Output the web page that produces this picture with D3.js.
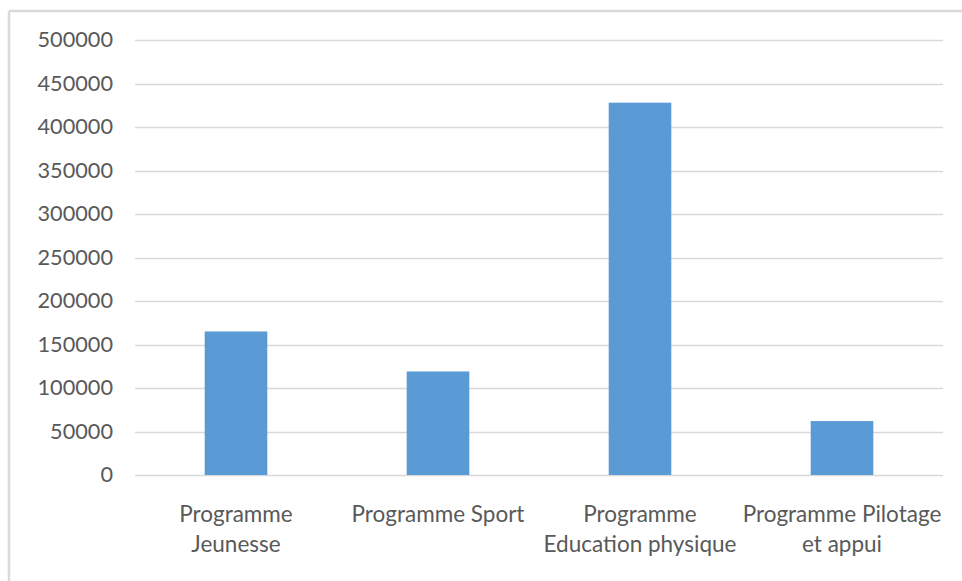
<!DOCTYPE html>
<html>
<head>
<meta charset="utf-8">
<script src="https://cdn.jsdelivr.net/npm/d3@7"></script>
<style>
  html, body { margin: 0; padding: 0; background: #fff; }
  svg { display: block; }
  text { font-family: "Lato", "Liberation Sans", sans-serif; fill: #595959; }
</style>
</head>
<body>
<svg id="chart" width="962" height="581"></svg>
<script>
const categories = [
  ["Programme", "Jeunesse"],
  ["Programme Sport"],
  ["Programme", "Education physique"],
  ["Programme Pilotage", "et appui"]
];
const values = [165000, 119000, 428000, 62000];
const yTicks = [0, 50000, 100000, 150000, 200000, 250000, 300000, 350000, 400000, 450000, 500000];

const svg = d3.select("#chart");
const W = 962, H = 581;
const margin = { left: 135, right: 19, top: 40, bottom: 106 };

// outer frame (top and left edges visible)
svg.append("line").attr("x1", 9).attr("x2", W).attr("y1", 11).attr("y2", 11)
  .attr("stroke", "#d9d9d9").attr("stroke-width", 2.5);
svg.append("line").attr("x1", 9).attr("x2", 9).attr("y1", 11).attr("y2", H)
  .attr("stroke", "#d9d9d9").attr("stroke-width", 2.5);

const x = d3.scaleBand()
  .domain(d3.range(categories.length))
  .range([margin.left, W - margin.right])
  .paddingInner(0)
  .paddingOuter(0);

const y = d3.scaleLinear()
  .domain([0, 500000])
  .range([H - margin.bottom, margin.top]);

// gridlines
svg.append("g").selectAll("line").data(yTicks).join("line")
  .attr("x1", margin.left).attr("x2", W - margin.right)
  .attr("y1", d => Math.round(y(d)) + 0.5).attr("y2", d => Math.round(y(d)) + 0.5)
  .attr("stroke", "#d9d9d9").attr("stroke-width", 1.5);

// y labels
const yAxis = d3.axisLeft(y).tickValues(yTicks).tickSize(0).tickPadding(22).tickFormat(d3.format("d"));
const ga = svg.append("g").attr("transform", `translate(${margin.left},0)`).call(yAxis);
ga.select(".domain").remove();
ga.selectAll("text").attr("font-size", 21.7).attr("fill", "#595959")
  .style("font-family", '"Lato", "Liberation Sans", sans-serif');

// bars
const barFrac = 0.31;
svg.append("g").selectAll("rect").data(values).join("rect")
  .attr("x", (d, i) => x(i) + x.bandwidth() * (1 - barFrac) / 2)
  .attr("width", x.bandwidth() * barFrac)
  .attr("y", d => y(d))
  .attr("height", d => y(0) - y(d))
  .attr("fill", "#5b9bd5");

// category labels
const lab = svg.append("g");
categories.forEach((lines, i) => {
  const t = lab.append("text")
    .attr("text-anchor", "middle")
    .attr("font-size", 22.5)
    .attr("x", x(i) + x.bandwidth() / 2)
    .attr("y", 522);
  lines.forEach((l, j) => {
    t.append("tspan").attr("x", x(i) + x.bandwidth() / 2).attr("dy", j === 0 ? 0 : 29.5).text(l);
  });
});
</script>
</body>
</html>
